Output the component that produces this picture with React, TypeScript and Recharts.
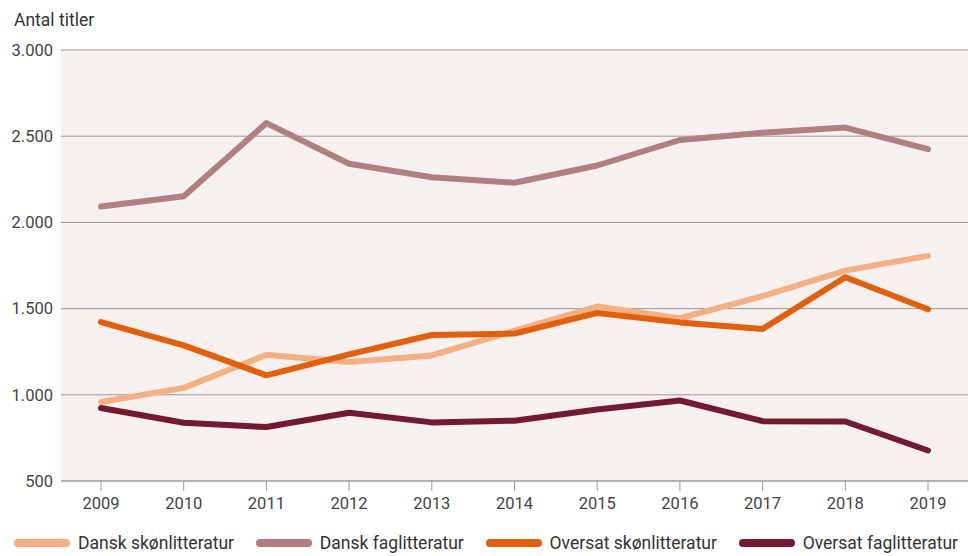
import { LineChart, Line, XAxis, YAxis, CartesianGrid } from "recharts";

const years = ["2009", "2010", "2011", "2012", "2013", "2014", "2015", "2016", "2017", "2018", "2019"];
const danskSkon = [958, 1040, 1232, 1190, 1228, 1372, 1512, 1444, 1572, 1720, 1806];
const danskFag = [2092, 2152, 2576, 2340, 2262, 2230, 2330, 2478, 2520, 2550, 2425];
const oversatSkon = [1422, 1287, 1113, 1235, 1347, 1355, 1475, 1420, 1382, 1682, 1496];
const oversatFag = [923, 838, 813, 896, 840, 850, 915, 967, 847, 845, 677];
const yTicks = [500, 1000, 1500, 2000, 2500, 3000];

const series = [
    { key: "danskSkon", name: "Dansk skønlitteratur", color: "#f4b082", values: danskSkon },
    { key: "danskFag", name: "Dansk faglitteratur", color: "#b17e81", values: danskFag },
    { key: "oversatSkon", name: "Oversat skønlitteratur", color: "#e2600b", values: oversatSkon },
    { key: "oversatFag", name: "Oversat faglitteratur", color: "#731a31", values: oversatFag },
];

const data = years.map((year, i) => {
    const row: Record<string, string | number> = { year };
    series.forEach((s) => {
        row[s.key] = s.values[i];
    });
    return row;
});

const FONT = "Roboto, 'DejaVu Sans', sans-serif";
const fmt = (v: number) => v.toLocaleString("da-DK");

function ChartLegend() {
    return (
        <div
            style={{
                position: "absolute",
                left: 12,
                top: 533,
                width: 946,
                display: "flex",
                justifyContent: "space-between",
                fontFamily: FONT,
                fontSize: 17.5,
                color: "#333",
            }}
        >
            {series.map((s) => (
                <div key={s.key} style={{ display: "flex", alignItems: "center" }}>
                    <svg width={60} height={12} style={{ marginRight: 6 }}>
                        <line x1={6} y1={6} x2={54} y2={6} stroke={s.color} strokeWidth={8} strokeLinecap="round" />
                    </svg>
                    <span>{s.name}</span>
                </div>
            ))}
        </div>
    );
}

export default function App() {
    return (
        <div style={{ position: "absolute", left: 0, top: 0, width: 968, height: 556, background: "#fff" }}>
            <div style={{ position: "absolute", left: 14, top: 10, fontFamily: FONT, fontSize: 17.5, color: "#333" }}>
                Antal titler
            </div>
            <LineChart width={968} height={556} data={data} margin={{ top: 50, right: 0, bottom: 45, left: 0 }}>
                <CartesianGrid vertical={false} stroke="#999" fill="#f6f1ef" />
                <XAxis
                    dataKey="year"
                    padding={{ left: 40, right: 40 }}
                    stroke="#999"
                    tickSize={10}
                    tickMargin={6}
                    tick={{ fontSize: 16.5, fill: "#444", fontFamily: FONT }}
                />
                <YAxis
                    domain={[500, 3000]}
                    ticks={yTicks}
                    width={61}
                    axisLine={false}
                    tickLine={false}
                    tickSize={0}
                    tickMargin={8}
                    tickFormatter={fmt}
                    tick={{ fontSize: 16.5, fill: "#444", fontFamily: FONT }}
                />
                {series.map((s) => (
                    <Line
                        key={s.key}
                        dataKey={s.key}
                        name={s.name}
                        stroke={s.color}
                        strokeWidth={6}
                        strokeLinecap="round"
                        strokeLinejoin="round"
                        dot={false}
                        activeDot={false}
                        type="linear"
                        isAnimationActive={false}
                    />
                ))}
            </LineChart>
            <ChartLegend />
        </div>
    );
}
